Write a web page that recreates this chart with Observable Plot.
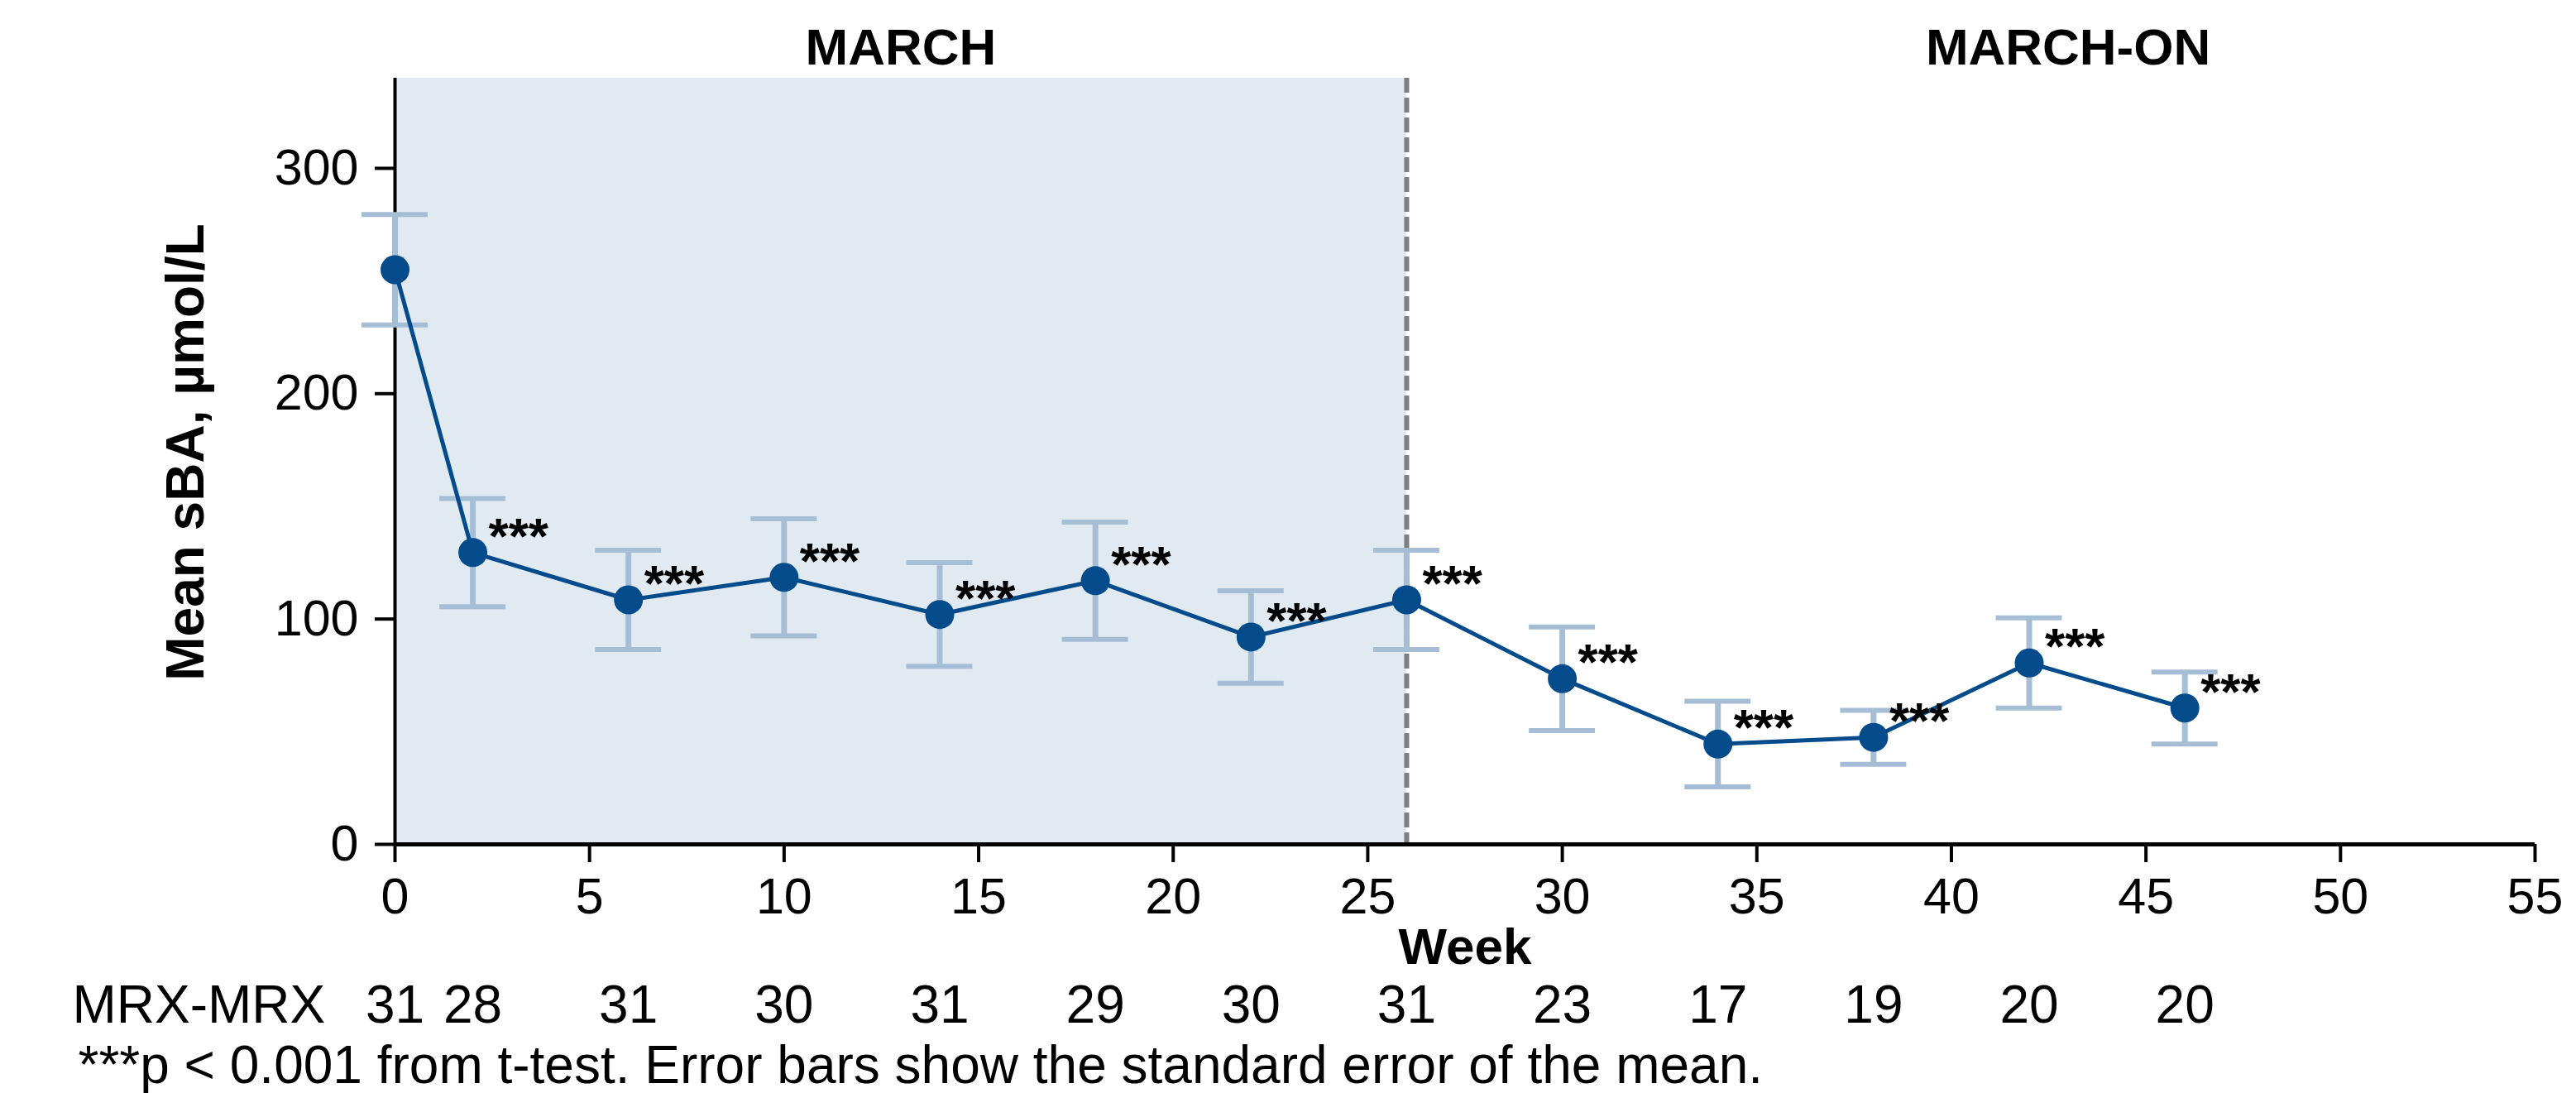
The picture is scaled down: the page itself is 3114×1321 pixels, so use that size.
<!DOCTYPE html>
<html>
<head>
<meta charset="utf-8">
<script src="https://cdn.jsdelivr.net/npm/d3@7"></script>
<script src="https://cdn.jsdelivr.net/npm/@observablehq/plot@0.6"></script>
<style>
  html, body { margin: 0; padding: 0; background: white; }
</style>
</head>
<body>
<div id="chart"></div>
<script>
// ---- data ----
const weeks = [0, 2, 6, 10, 14, 18, 22, 26, 30, 34, 38, 42, 46];
const means = [255, 129.5, 108.5, 118.5, 102, 117, 92, 108.5, 73.5, 44.5, 47.5, 80.5, 60.5];
const sems = [24.5, 24, 22, 26, 23, 26, 20.5, 22, 23, 19, 12, 20, 16];
const nPatients = [31, 28, 31, 30, 31, 29, 30, 31, 23, 17, 19, 20, 20];
const significance = ["", "***", "***", "***", "***", "***", "***", "***", "***", "***", "***", "***", "***"];
const phaseNames = ["MARCH", "MARCH-ON"];
const phaseStart = [0, 26];
const phaseEnd = [26, 60];
const xTicks = [0, 5, 10, 15, 20, 25, 30, 35, 40, 45, 50, 55];
const yTicks = [0, 100, 200, 300];
const rowLabel = "MRX-MRX";
const xLabel = "Week";
const yLabel = "Mean sBA, µmol/L";
const footnote = "***p < 0.001 from t-test. Error bars show the standard error of the mean.";

const data = weeks.map((w, i) => ({
  week: w, mean: means[i], lo: means[i] - sems[i], hi: means[i] + sems[i],
  n: nPatients[i], sig: significance[i]
}));
const phases = phaseNames.map((name, i) => ({name, start: phaseStart[i], end: phaseEnd[i]}));

const lineColor = "#034b8b";
const errColor = "#a5bed6";
const shadeColor = "#e1e9f1";
const capHalf = 0.85;

const chart = Plot.plot({
  width: 3114,
  height: 1321,
  marginTop: 94,
  marginBottom: 301,
  marginLeft: 477,
  marginRight: 50,
  style: {fontFamily: "'Liberation Sans', Arial, Helvetica, sans-serif", background: "white", color: "black"},
  x: {domain: [0, 55]},
  y: {domain: [0, 340]},
  marks: [
    // shaded MARCH period
    Plot.rect([phases[0]], {x1: "start", x2: "end", y1: 0, y2: 340, fill: shadeColor}),
    // dashed boundary
    Plot.ruleX([phases[0].end], {stroke: "#7f7f7f", strokeWidth: 6, strokeDasharray: "18,6"}),
    // axes
    Plot.axisY({ticks: yTicks, tickSize: 24, tickPadding: 20, fontSize: 61, strokeWidth: 4, label: null}),
    Plot.axisX({ticks: xTicks, tickSize: 22, tickPadding: 18, fontSize: 61, strokeWidth: 4, label: null}),
    Plot.ruleX([0], {strokeWidth: 4}),
    Plot.ruleY([0], {strokeWidth: 5}),
    // error bars
    Plot.ruleX(data, {x: "week", y1: "lo", y2: "hi", stroke: errColor, strokeWidth: 7}),
    Plot.ruleY(data, {y: "hi", x1: d => d.week - capHalf, x2: d => d.week + capHalf, stroke: errColor, strokeWidth: 6}),
    Plot.ruleY(data, {y: "lo", x1: d => d.week - capHalf, x2: d => d.week + capHalf, stroke: errColor, strokeWidth: 6}),
    // line + points
    Plot.line(data, {x: "week", y: "mean", stroke: lineColor, strokeWidth: 5}),
    Plot.dot(data, {x: "week", y: "mean", r: 17.5, fill: lineColor, stroke: "none"}),
    // significance stars
    Plot.text(data.filter(d => d.sig), {x: "week", y: "mean", text: "sig", dx: 19, dy: 1,
      textAnchor: "start", lineAnchor: "bottom", fontSize: 62, fontWeight: "bold", fill: "black"}),
    // phase labels
    Plot.text(phases, {x: d => (d.start + d.end) / 2, y: 340, text: "name", dy: -36,
      lineAnchor: "middle", fontSize: 62, fontWeight: "bold"}),
    // axis titles
    Plot.text([xLabel], {frameAnchor: "bottom", dy: 125, textAnchor: "middle", lineAnchor: "middle", fontSize: 62, fontWeight: "bold"}),
    Plot.text([yLabel], {frameAnchor: "left", dx: -252, dy: -11, rotate: -90, textAnchor: "middle", lineAnchor: "middle", fontSize: 64, fontWeight: "bold"}),
    // patient counts row
    Plot.text([rowLabel], {frameAnchor: "bottom-left", dx: -390, dy: 215, textAnchor: "start", lineAnchor: "bottom", fontSize: 64}),
    Plot.text(data, {x: "week", y: 0, text: d => String(d.n), dy: 215, lineAnchor: "bottom", fontSize: 64}),
    // footnote
    Plot.text([footnote], {frameAnchor: "bottom-left", dx: -383, dy: 288, textAnchor: "start", lineAnchor: "bottom", fontSize: 64})
  ]
});
document.getElementById("chart").appendChild(chart);
</script>
</body>
</html>
